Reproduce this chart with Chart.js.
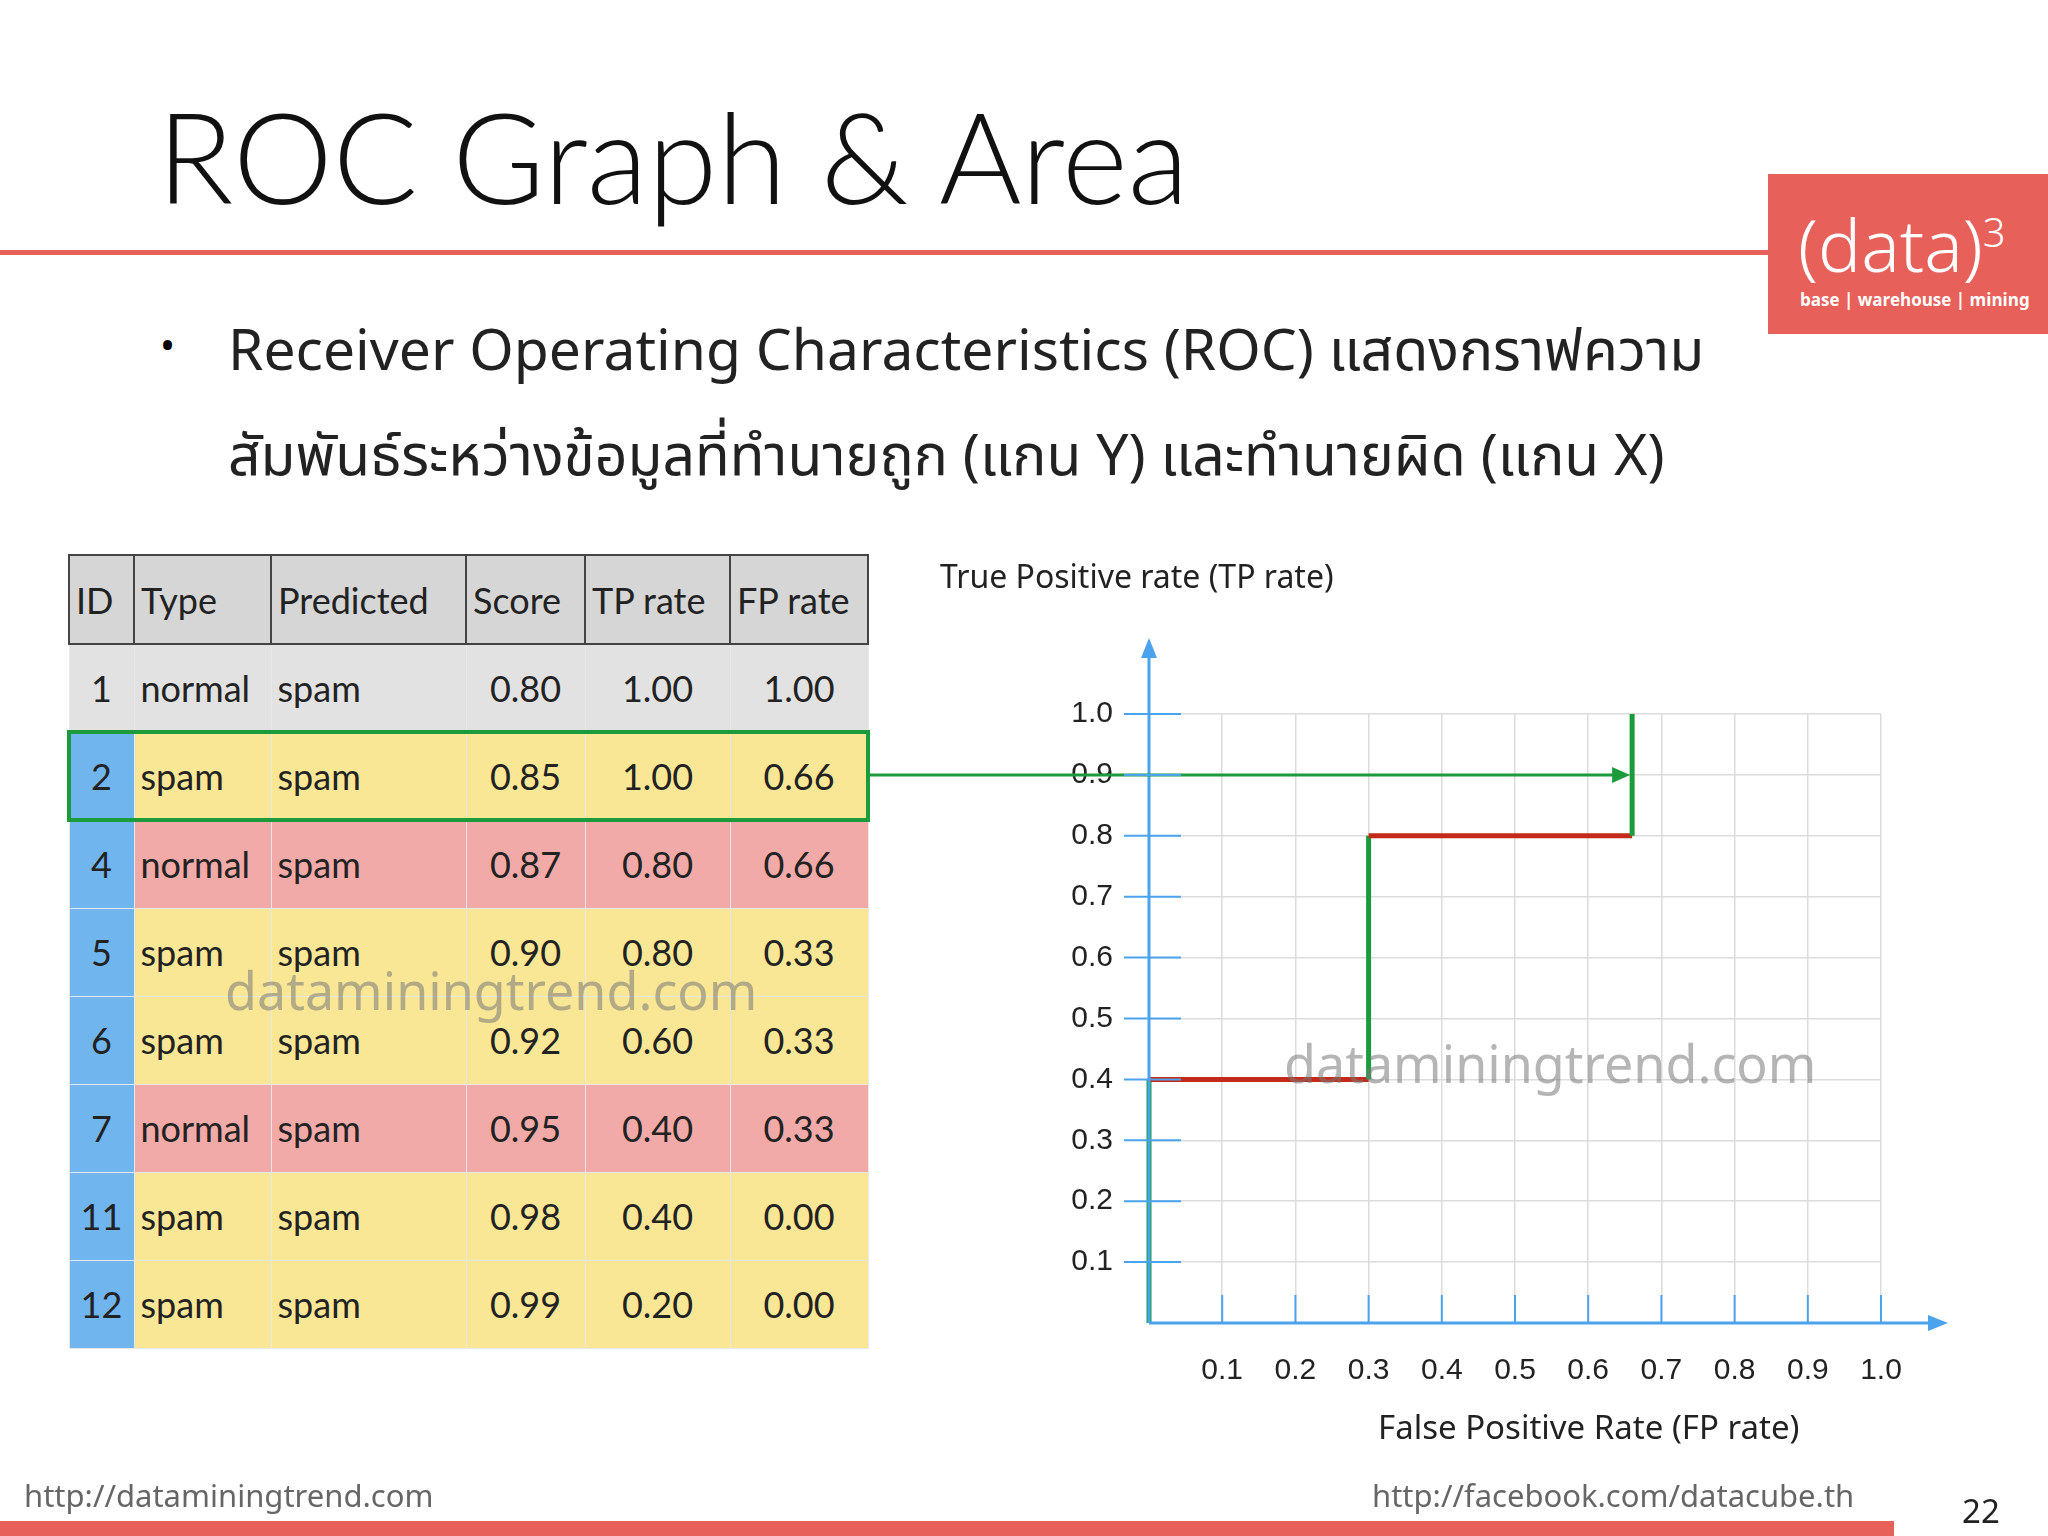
<!DOCTYPE html>
<html><head><meta charset="utf-8">
<script src="https://cdn.jsdelivr.net/npm/chart.js@4"></script>
<style>
body{margin:0;width:2048px;height:1536px;position:relative;background:#fff;font-family:"Noto Sans Thai","Noto Sans",Lato,sans-serif;overflow:hidden}
.a{position:absolute;white-space:nowrap}
#c{position:absolute;left:0;top:0;width:2048px;height:1536px}
table{position:absolute;left:68px;top:554px;border-collapse:collapse;font-size:36px;color:#222;font-family:"Helvetica Neue",Lato,"Noto Sans",sans-serif;table-layout:fixed;width:799px}
td{height:88px;padding:0 6px;border:1px solid #e8e8e8;box-sizing:border-box}
td.n{text-align:center}
</style></head><body>
<div class="a" style="left:157px;top:80px;font-size:126px;color:#111;font-family:'Helvetica Neue',Lato,sans-serif;font-weight:300">ROC Graph &amp; Area</div>
<div class="a" style="left:0;top:250px;width:1770px;height:5px;background:#e8605a"></div>
<div class="a" style="left:1768px;top:174px;width:280px;height:160px;background:#e8605a;color:#fff">
<div class="a" style="left:30px;top:22px;font-size:72px;font-weight:300">(data)<sup style="font-size:40px">3</sup></div>
<div class="a" style="left:32px;top:114px;font-size:17px;font-weight:bold">base | warehouse | mining</div></div>
<div class="a" style="left:160px;top:318px;font-size:40px">•</div>
<div class="a" style="left:228px;top:310px;font-size:57px;color:#222">Receiver Operating Characteristics (ROC) แสดงกราฟความ</div>
<div class="a" style="left:228px;top:415px;font-size:57px;color:#222">สัมพันธ์ระหว่างข้อมูลที่ทำนายถูก (แกน Y) และทำนายผิด (แกน X)</div>
<table id="t"></table>
<canvas id="c" width="2048" height="1536"></canvas>
<div class="a" style="left:225px;top:955px;font-size:52px;color:rgba(120,120,120,0.55)">dataminingtrend.com</div>
<div class="a" style="left:1284px;top:1028px;font-size:52px;color:rgba(120,120,120,0.55)">dataminingtrend.com</div>
<div class="a" style="left:940px;top:554px;font-size:32px;color:#222">True Positive rate (TP rate)</div>
<div class="a" style="left:1378px;top:1404px;font-size:33px;color:#222">False Positive Rate (FP rate)</div>
<div class="a" style="left:24px;top:1474px;font-size:31px;color:#666">http://dataminingtrend.com</div>
<div class="a" style="left:1372px;top:1474px;font-size:31px;color:#666">http://facebook.com/datacube.th</div>
<div class="a" style="left:1962px;top:1488px;font-size:33px;color:#222">22</div>
<div class="a" style="left:0;top:1521px;width:1894px;height:15px;background:#e8605a"></div>
<script>
const ids=['1','2','4','5','6','7','11','12'];
const types=['normal','spam','normal','spam','spam','normal','spam','spam'];
const predicted=['spam','spam','spam','spam','spam','spam','spam','spam'];
const scores=['0.80','0.85','0.87','0.90','0.92','0.95','0.98','0.99'];
const tpRates=['1.00','1.00','0.80','0.80','0.60','0.40','0.40','0.20'];
const fpRates=['1.00','0.66','0.66','0.33','0.33','0.33','0.00','0.00'];
const headers=['ID','Type','Predicted','Score','TP rate','FP rate'];
const rocX=[0,0,0.3,0.3,0.66,0.66];
const rocY=[0,0.4,0.4,0.8,0.8,1.0];
const arrowY=0.9;
const xTicks=['0.1','0.2','0.3','0.4','0.5','0.6','0.7','0.8','0.9','1.0'];
const yTicks=['0.1','0.2','0.3','0.4','0.5','0.6','0.7','0.8','0.9','1.0'];

const widths=[65,137,195,119,145,138];
const t=document.getElementById('t');
let h='<tr>'+headers.map((x,i)=>`<td style="width:${widths[i]}px;height:89px;background:#d6d6d6;border:2px solid #444">${x}</td>`).join('')+'</tr>';
ids.forEach((id,i)=>{
 const bg=i==0?'#e2e2e2':(types[i]=='normal'?'#f2aaa8':'#f9e796');
 const idbg=i==0?'#e2e2e2':'#70b5ee';
 h+=`<tr style="background:${bg}"><td class="n" style="background:${idbg}">${id}</td><td>${types[i]}</td><td>${predicted[i]}</td><td class="n">${scores[i]}</td><td class="n">${tpRates[i]}</td><td class="n">${fpRates[i]}</td></tr>`;
});
t.innerHTML=h;

const blue='#4aa3ec';
const extra={id:'extra',afterDraw(ch){
 const c=ch.ctx,xs=ch.scales.x,ys=ch.scales.y;
 const x0=xs.getPixelForValue(0),y0=ys.getPixelForValue(0);
 c.save();c.strokeStyle=blue;c.fillStyle=blue;c.lineWidth=3;
 c.beginPath();c.moveTo(x0,y0);c.lineTo(1935,y0);c.moveTo(x0,y0);c.lineTo(x0,650);c.stroke();
 c.beginPath();c.moveTo(1948,y0);c.lineTo(1928,y0-8);c.lineTo(1928,y0+8);c.fill();
 c.beginPath();c.moveTo(x0,638);c.lineTo(x0-8,658);c.lineTo(x0+8,658);c.fill();
 const r=document.getElementById('t').rows[2].getBoundingClientRect();
 c.strokeStyle='#1c9b3c';c.lineWidth=4;c.strokeRect(r.left,r.top,r.width,r.height);
 const ay=ys.getPixelForValue(arrowY),ax=xs.getPixelForValue(rocX[4]);
 c.lineWidth=3;c.beginPath();c.moveTo(r.right,ay);c.lineTo(ax-14,ay);c.stroke();
 c.fillStyle='#1c9b3c';c.beginPath();c.moveTo(ax-2,ay);c.lineTo(ax-20,ay-8);c.lineTo(ax-20,ay+8);c.fill();
 c.restore();}};
new Chart(document.getElementById('c'),{type:'scatter',
 data:{datasets:[{data:rocX.map((x,i)=>({x,y:rocY[i]})),showLine:true,pointRadius:0,borderWidth:5,clip:false,
  segment:{borderColor:s=>s.p0.parsed.y===s.p1.parsed.y?'#c42a1a':'#1c9b3c'}}]},
 options:{responsive:false,animation:false,devicePixelRatio:1,
  layout:{padding:{left:1149-80,right:167,top:714,bottom:1536-1323-75}},
  plugins:{legend:{display:false},tooltip:{enabled:false}},
  scales:{
   x:{min:0,max:1,afterFit:s=>{s.height=75},border:{display:false},
    grid:{color:'#dcdcdc',lineWidth:1.5,tickLength:0,drawTicks:false},
    ticks:{stepSize:0.1,padding:30,color:'#222',font:{size:30},callback:(v,i)=>i==0?'':xTicks[i-1]}},
   y:{min:0,max:1,afterFit:s=>{s.width=80},border:{display:false},
    grid:{color:'#dcdcdc',lineWidth:1.5,drawTicks:false},
    ticks:{stepSize:0.1,padding:36,color:'#222',font:{size:30},callback:(v,i)=>i==0?'':yTicks[i-1]}}}},
 plugins:[extra,{id:'tk',afterDraw(ch){const c=ch.ctx,xs=ch.scales.x,ys=ch.scales.y;c.save();c.strokeStyle=blue;c.lineWidth=2;
  const x0=xs.getPixelForValue(0),y0=ys.getPixelForValue(0);
  for(let i=1;i<=10;i++){const px=xs.getPixelForValue(i/10);c.beginPath();c.moveTo(px,y0);c.lineTo(px,y0-28);c.stroke();
   const py=ys.getPixelForValue(i/10);c.beginPath();c.moveTo(x0-25,py);c.lineTo(x0+32,py);c.stroke();}
  c.restore();}}]});
</script></body></html>
